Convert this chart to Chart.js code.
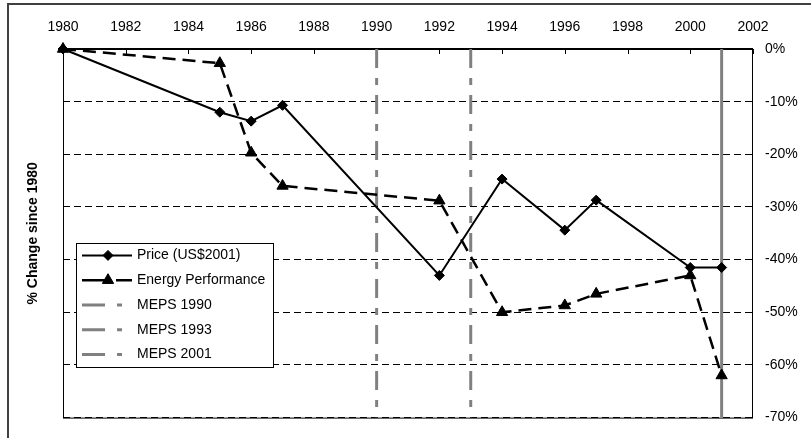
<!DOCTYPE html>
<html>
<head>
<meta charset="utf-8">
<script src="https://cdn.jsdelivr.net/npm/chart.js@4/dist/chart.umd.min.js"></script>
<style>
  body { margin: 0; background: #fff; }
  canvas { display: block; }
</style>
</head>
<body>
<canvas id="chart" width="811" height="438"></canvas>
<script>
// values (% change since 1980)
var years = [1980, 1985, 1986, 1987, 1992, 1994, 1996, 1997, 2000, 2001];
var priceValues = [0, -12, -13.7, -10.7, -43, -24.7, -34.4, -28.7, -41.5, -41.5];
var energyValues = [0, -2.7, -19.7, -26, -28.8, -50, -48.7, -46.5, -43, -62];
var mepsYears = [1990, 1993, 2001];
var mepsLabels = ["MEPS 1990", "MEPS 1993", "MEPS 2001"];
var xMin = 1980, xMax = 2002, xStep = 2;
var yMin = -70, yMax = 0, yStep = 10;

var font = "'Liberation Sans', Arial, sans-serif";

function points(vals) {
  return years.map(function (yr, i) { return {x: yr, y: vals[i]}; });
}

var datasets = [
  {
    label: "Price (US$2001)",
    data: points(priceValues),
    borderColor: "#000", backgroundColor: "#000",
    borderWidth: 2,
    pointStyle: "rectRot", pointRadius: 5, pointBorderWidth: 1,
    order: 0, clip: false,
    legendDash: []
  },
  {
    label: "Energy Performance",
    data: points(energyValues),
    borderColor: "#000", backgroundColor: "#000",
    borderWidth: 2.5, borderDash: [13, 7],
    pointStyle: "triangle", pointRadius: 6.5, pointBorderWidth: 1,
    order: 0, clip: false,
    legendDash: [26, 8, 16, 100]
  }
];
mepsYears.forEach(function (yr, i) {
  datasets.push({
    label: mepsLabels[i],
    data: [{x: yr, y: yMax}, {x: yr, y: yMin}],
    borderColor: "#808080",
    borderWidth: 3,
    borderDash: yr == 2001 ? [] : [19, 10, 7, 10],
    pointRadius: 0,
    order: 1,
    legendDash: [23, 12, 5, 100]
  });
});

var decorations = {
  id: "decorations",
  beforeDraw: function (chart) {
    var ctx = chart.ctx;
    ctx.save();
    ctx.fillStyle = "#fff";
    ctx.fillRect(0, 0, chart.width, chart.height);
    // outer frame
    ctx.strokeStyle = "#404040";
    ctx.lineWidth = 2;
    ctx.beginPath();
    ctx.moveTo(8, chart.height);
    ctx.lineTo(8, 4);
    ctx.lineTo(chart.width, 4);
    ctx.stroke();
    ctx.restore();
  },
  beforeDatasetsDraw: function (chart) {
    var ctx = chart.ctx, a = chart.chartArea;
    var xs = chart.scales.x;
    ctx.save();
    ctx.strokeStyle = "#000";
    ctx.lineWidth = 1;
    ctx.strokeRect(a.left + 0.5, a.top + 0.5, a.right - a.left - 1, a.bottom - a.top);
    // tick marks pointing into the plot
    ctx.beginPath();
    xs.ticks.forEach(function (t) {
      var px = Math.round(xs.getPixelForValue(t.value)) + 0.5;
      ctx.moveTo(px, a.top);
      ctx.lineTo(px, a.top + 5);
    });
    ctx.stroke();
    ctx.lineWidth = 2;
    ctx.beginPath();
    ctx.moveTo(a.left, a.top);
    ctx.lineTo(a.right, a.top);
    ctx.stroke();
    ctx.restore();
  },
  afterDatasetsDraw: function (chart) {
    var ctx = chart.ctx;
    var bx = 76, by = 243, bw = 197, rowH = 24.8;
    var sets = chart.data.datasets;
    ctx.save();
    ctx.fillStyle = "#fff";
    ctx.fillRect(bx, by, bw, rowH * sets.length);
    ctx.strokeStyle = "#000";
    ctx.lineWidth = 1;
    ctx.strokeRect(bx + 0.5, by + 0.5, bw, rowH * sets.length);
    sets.forEach(function (ds, i) {
      var cy = by + rowH * i + rowH / 2;
      ctx.save();
      ctx.strokeStyle = ds.borderColor;
      ctx.lineWidth = ds.borderWidth;
      ctx.setLineDash(ds.legendDash);
      ctx.beginPath();
      ctx.moveTo(82, cy);
      ctx.lineTo(132, cy);
      ctx.stroke();
      ctx.restore();
      if (ds.pointRadius > 0) {
        ctx.save();
        ctx.fillStyle = ds.backgroundColor;
        ctx.strokeStyle = ds.borderColor;
        Chart.helpers.drawPoint(ctx, {
          pointStyle: ds.pointStyle, radius: ds.pointRadius, rotation: 0, borderWidth: 1
        }, 108, cy);
        ctx.restore();
      }
      ctx.fillStyle = "#000";
      ctx.font = "14px " + font;
      ctx.textBaseline = "middle";
      ctx.textAlign = "left";
      ctx.fillText(ds.label, 137, cy);
    });
    ctx.restore();
  },
  afterDraw: function (chart) {
    var ctx = chart.ctx, a = chart.chartArea;
    ctx.save();
    ctx.translate(33, (a.top + a.bottom) / 2);
    ctx.rotate(-Math.PI / 2);
    ctx.fillStyle = "#000";
    ctx.font = "bold 14px " + font;
    ctx.textAlign = "center";
    ctx.textBaseline = "middle";
    ctx.fillText("% Change since 1980", 0, 0);
    ctx.restore();
  }
};

new Chart(document.getElementById("chart"), {
  type: "line",
  data: {datasets: datasets},
  plugins: [decorations],
  options: {
    responsive: false,
    animation: false,
    devicePixelRatio: 1,
    layout: {padding: {left: 63, top: 0, right: 0, bottom: 15}},
    plugins: {
      legend: {display: false},
      tooltip: {enabled: false}
    },
    elements: {line: {tension: 0}},
    scales: {
      x: {
        type: "linear",
        position: "top",
        min: xMin, max: xMax,
        afterFit: function (s) { s.height = 49; },
        ticks: {
          stepSize: xStep,
          padding: 13,
          color: "#000",
          font: {family: font, size: 14},
          maxRotation: 0,
          callback: function (v) { return String(v); }
        },
        grid: {display: false, drawTicks: false},
        border: {display: false}
      },
      y: {
        type: "linear",
        position: "right",
        min: yMin, max: yMax,
        afterFit: function (s) { s.width = 58; },
        ticks: {
          stepSize: yStep,
          padding: 12,
          color: "#000",
          font: {family: font, size: 14},
          callback: function (v) { return v + "%"; }
        },
        grid: {
          color: "#000",
          lineWidth: 1,
          drawTicks: false
        },
        border: {display: false, dash: [7, 4]}
      }
    }
  }
});
</script>
</body>
</html>
